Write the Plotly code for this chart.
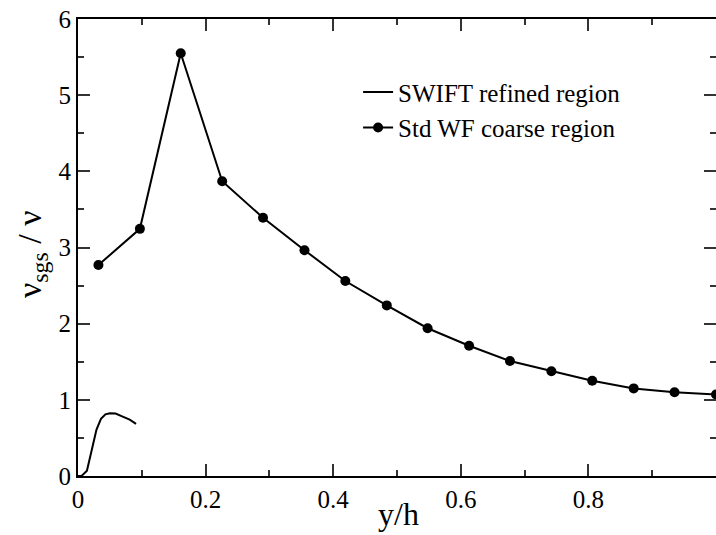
import plotly.graph_objects as go

# Std WF coarse region
wf_x = [0.032, 0.097, 0.161, 0.226, 0.290, 0.355, 0.419, 0.484, 0.548,
        0.613, 0.677, 0.742, 0.806, 0.871, 0.935, 1.0]
wf_y = [2.77, 3.245, 5.55, 3.87, 3.39, 2.965, 2.56, 2.24, 1.94,
        1.71, 1.51, 1.375, 1.25, 1.15, 1.10, 1.07]

# SWIFT refined region
sw_x = [0.0, 0.006, 0.014, 0.020, 0.029, 0.036, 0.043, 0.050, 0.059,
        0.070, 0.081, 0.091]
sw_y = [0.0, 0.004, 0.07, 0.30, 0.61, 0.75, 0.81, 0.825, 0.82,
        0.78, 0.74, 0.685]

x_ticks = [0, 0.2, 0.4, 0.6, 0.8]
x_tick_text = ["0", "0.2", "0.4", "0.6", "0.8"]
y_ticks = [0, 1, 2, 3, 4, 5, 6]

FONT = "Liberation Serif, Times New Roman, serif"
XR = [0, 1.0]

fig = go.Figure()
fig.add_trace(go.Scatter(x=sw_x, y=sw_y, mode="lines",
                         line=dict(color="black", width=2),
                         name="SWIFT refined region"))
fig.add_trace(go.Scatter(x=wf_x, y=wf_y, mode="lines+markers",
                         line=dict(color="black", width=2),
                         marker=dict(color="black", size=10),
                         cliponaxis=False,
                         name="Std WF coarse region"))
# dummy trace to activate secondary axes
fig.add_trace(go.Scatter(x=[None], y=[None], xaxis="x2", yaxis="y2",
                         showlegend=False, hoverinfo="skip"))

tick_common = dict(ticks="inside", ticklen=12, tickwidth=1.5, tickcolor="#333",
                   showgrid=False, zeroline=False)

fig.update_layout(
    width=716, height=535,
    margin=dict(l=78, r=0, t=19, b=59),
    plot_bgcolor="white", paper_bgcolor="white",
    font=dict(family=FONT, color="black", size=25),
    showlegend=True,
    legend=dict(x=0.439, y=0.89, xanchor="left", yanchor="top",
                bgcolor="rgba(0,0,0,0)", font=dict(size=25, family=FONT),
                itemwidth=30, tracegroupgap=0),
    xaxis=dict(range=XR, tickvals=x_ticks, ticktext=x_tick_text,
               showline=True, linecolor="black", linewidth=2,
               minor=dict(dtick=0.1, ticks="inside", ticklen=6, tickcolor="#333"),
               tickfont=dict(size=25, family=FONT), **tick_common),
    xaxis2=dict(range=XR, overlaying="x", side="top",
                tickvals=x_ticks, showticklabels=False,
                showline=True, linecolor="black", linewidth=2,
                minor=dict(dtick=0.1, ticks="inside", ticklen=6, tickcolor="#333"),
                **tick_common),
    yaxis=dict(range=[0, 6], tickvals=y_ticks,
               showline=True, linecolor="black", linewidth=2,
               minor=dict(dtick=0.5, ticks="inside", ticklen=6, tickcolor="#333"),
               tickfont=dict(size=25, family=FONT), **tick_common),
    yaxis2=dict(range=[0, 6], overlaying="y", side="right",
                tickvals=y_ticks, showticklabels=False, showline=False,
                minor=dict(dtick=0.5, ticks="inside", ticklen=6, tickcolor="#333"),
                **tick_common),
)

fig.add_annotation(text="y/h", xref="paper", yref="paper", x=0.503, y=-0.128,
                   xanchor="center", yanchor="bottom", showarrow=False,
                   font=dict(size=32, family=FONT))
fig.add_annotation(text="ν<sub>sgs</sub> / ν", xref="paper", yref="paper",
                   x=-0.071, y=0.485, textangle=-90, xanchor="center", yanchor="middle",
                   showarrow=False, font=dict(size=34, family=FONT))

fig.write_html("out.html",
               config={"displayModeBar": False},
               post_script="document.body.style.margin='0';document.body.style.overflow='hidden';")
